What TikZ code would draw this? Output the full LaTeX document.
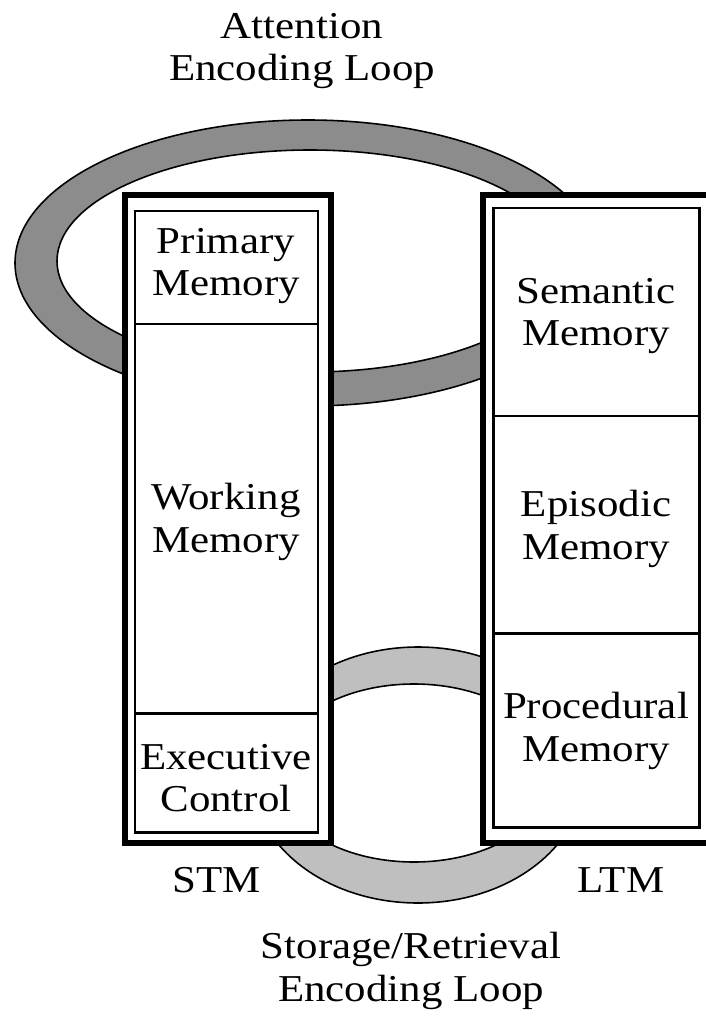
\documentclass[tikz,border=0pt]{standalone}
\usepackage{fontspec}
\setmainfont{Liberation Serif}[FakeStretch=1.13]
\begin{document}
\begin{tikzpicture}[x=0.01cm,y=-0.01cm,
      frame/.style={draw,line width=1.9pt,fill=white},
      cell/.style={draw,line width=0.85pt},
      ring/.style={draw,line width=0.45pt,even odd rule},
      lbl/.style={align=center,inner sep=0pt,
            font=\fontsize{10.8pt}{12pt}\selectfont}]
      \clip (0,0) rectangle (706,1021);

      % the two loops
      \draw[ring,fill=black!45] (308,263) ellipse [x radius=293,y radius=143]
            (310,261) ellipse [x radius=253,y radius=111];
      \draw[ring,fill=black!25] (418,775) ellipse [x radius=166,y radius=128]
            (414,773) ellipse [x radius=139,y radius=89];

      % STM
      \draw[frame] (125,195) rectangle (331,843);
      \draw[cell] (135,211) rectangle (318,832);
      \draw[cell] (135,324) -- (318,324);
      \draw[cell] (135,713) -- (318,713);

      % LTM
      \draw[frame] (483,195) rectangle (712,843);
      \draw[cell] (493,208) rectangle (699,827);
      \draw[cell] (493,416) -- (699,416);
      \draw[cell] (493,633) -- (699,633);

      \node[lbl] (primary) at (226,266) {Primary\\Memory};
      \node[lbl] (working) at (226,522) {Working\\Memory};
      \node[lbl] (executive) at (226,778) {Executive\\Control};
      \node[lbl] (semantic) at (596,316) {Semantic\\Memory};
      \node[lbl] (episodic) at (596,529) {Episodic\\Memory};
      \node[lbl] (procedural) at (596,731) {Procedural\\Memory};

      \node[lbl] (stm) at (217,880) {STM};
      \node[lbl] (ltm) at (621,880) {LTM};
      \node[lbl] (attention) at (302,51) {Attention\\Encoding Loop};
      \node[lbl] (storage) at (411,971) {Storage/Retrieval\\Encoding Loop};
\end{tikzpicture}
\end{document}
